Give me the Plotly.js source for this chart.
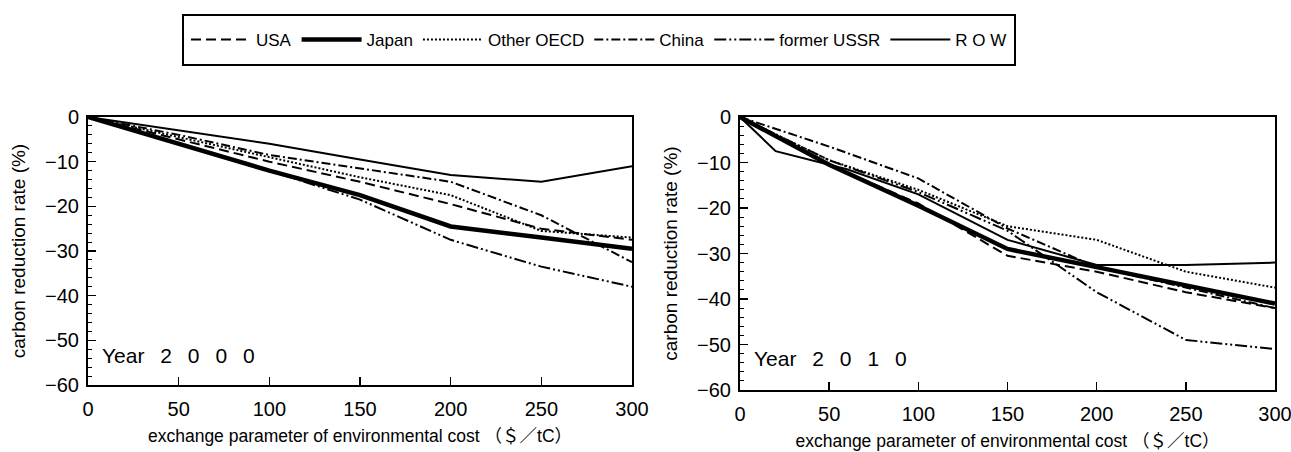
<!DOCTYPE html>
<html>
<head>
<meta charset="utf-8">
<script src="https://cdn.plot.ly/plotly-3.0.1.min.js"></script>
<style>html,body{margin:0;padding:0;background:#fff;}</style>
</head>
<body>
<div id="chart" style="width:1291px;height:452px;"></div>
<script>
// ---- data ----
const seriesNames = ["USA", "Japan", "Other OECD", "China", "former USSR", "R O W"];
const cost = [0, 50, 100, 150, 200, 250, 300];

// Year 2000
const usa2000   = [0, -5.0, -10.0, -14.5, -19.5, -25.0, -27.5];
const japan2000 = [0, -6.0, -12.0, -17.5, -24.5, -27.0, -29.5];
const oecd2000  = [0, -4.5, -9.0, -13.5, -17.5, -25.5, -27.0];
const china2000 = [0, -4.0, -8.5, -11.5, -14.5, -22.0, -32.5];
const ussr2000  = [0, -6.0, -12.0, -18.5, -27.5, -33.5, -38.0];
const row2000   = [0, -3.0, -6.0, -9.5, -13.0, -14.5, -11.0];

// Year 2010
const usa2010   = [0, -10.5, -19.0, -30.5, -34.0, -38.5, -42.0];
const japan2010 = [0, -10.5, -19.5, -29.0, -33.0, -37.0, -41.0];
const oecd2010  = [0, -9.5, -16.0, -24.0, -27.0, -34.0, -37.5];
const china2010 = [0, -6.5, -13.5, -24.5, -33.0, -37.5, -42.0];
const ussr2010  = [0, -9.5, -16.5, -25.0, -38.5, -49.0, -51.0];
const rowCost2010 = [0, 20, 60, 100, 150, 200, 250, 300];
const row2010   = [0, -7.5, -11.5, -17.0, -27.0, -32.5, -32.5, -32.0];

const xTickVals = [0, 50, 100, 150, 200, 250, 300];
const yTickVals = [0, -10, -20, -30, -40, -50, -60];

// ---- styles ----
const styles = [
  {width: 2, dash: "10px,5px"},
  {width: 4.5, dash: "solid"},
  {width: 2, dash: "2px,2px"},
  {width: 2, dash: "9px,3px,2px,3px"},
  {width: 2, dash: "12px,3px,2px,3px,2px,3px"},
  {width: 2, dash: "solid"}
];

const FONT = "Liberation Sans, Arial, Noto Sans CJK JP, sans-serif";
const NB = "\u00a0";
const SP = NB + NB + "\u2009";

function mk(x, y, i, xa, ya, show) {
  return {
    x: x, y: y, type: "scatter", mode: "lines",
    name: seriesNames[i], legendgroup: seriesNames[i], showlegend: show,
    xaxis: xa, yaxis: ya,
    line: {color: "#000", width: styles[i].width, dash: styles[i].dash},
    hoverinfo: "skip"
  };
}

const d2000 = [usa2000, japan2000, oecd2000, china2000, ussr2000, row2000];
const d2010 = [usa2010, japan2010, oecd2010, china2010, ussr2010, row2010];
const traces = [];
d2000.forEach((y, i) => traces.push(mk(cost, y, i, "x", "y", true)));
d2010.forEach((y, i) => traces.push(mk(i === 5 ? rowCost2010 : cost, y, i, "x2", "y2", false)));

function xax(domain, anchor) {
  return {
    domain: domain, anchor: anchor, range: [0, 300],
    tickvals: xTickVals, ticks: "inside", ticklen: 8, tickwidth: 1.5, tickcolor: "#000",
    showline: true, linewidth: 2, linecolor: "#000", mirror: true,
    showgrid: false, zeroline: false, ticklabelstandoff: 5, ticklabeloverflow: "allow",
    tickfont: {family: FONT, size: 20, color: "#000"},
    title: {text: "exchange parameter of environmental cost （＄／tC）", font: {family: FONT, size: 17.5, color: "#000"}, standoff: 11}
  };
}
function yax(domain, anchor) {
  return {
    domain: domain, anchor: anchor, range: [-60, 0],
    tickvals: yTickVals, ticks: "inside", ticklen: 8, tickwidth: 1.5, tickcolor: "#000",
    minor: {dtick: 2, ticks: "inside", ticklen: 4, tickwidth: 1, tickcolor: "#000"},
    showline: true, linewidth: 2, linecolor: "#000", mirror: true,
    showgrid: false, zeroline: false, ticklabelstandoff: 3,
    tickfont: {family: FONT, size: 20, color: "#000"},
    title: {text: "carbon reduction rate" + NB + "(%)", font: {family: FONT, size: 19, color: "#000"}, standoff: 14}
  };
}

const layout = {
  width: 1291, height: 452, autosize: false,
  margin: {l: 0, r: 0, t: 0, b: 0},
  paper_bgcolor: "#fff", plot_bgcolor: "#fff",
  font: {family: FONT, color: "#000"},
  xaxis: xax([88/1291, 632/1291], "y"),
  yaxis: yax([67/452, 335/452], "x"),
  xaxis2: xax([740/1291, 1275/1291], "y2"),
  yaxis2: yax([62/452, 335/452], "x2"),
  showlegend: true,
  legend: {
    orientation: "h", x: 599/1291, xanchor: "center", y: 412/452, yanchor: "middle",
    font: {family: FONT, size: 17, color: "#000"},
    bgcolor: "rgba(0,0,0,0)", borderwidth: 0,
    itemwidth: 60
  },
  shapes: [{
    type: "rect", xref: "paper", yref: "paper",
    x0: 183/1291, x1: 1015/1291, y0: 387/452, y1: 437/452,
    line: {color: "#000", width: 2}
  }],
  annotations: [
    {text: "Year" + SP + "2" + SP + "0" + SP + "0" + SP + "0", xref: "paper", yref: "paper", x: 100/1291, y: 97/452, xanchor: "left", yanchor: "middle", showarrow: false, font: {family: FONT, size: 21, color: "#000"}},
    {text: "Year" + SP + "2" + SP + "0" + SP + "1" + SP + "0", xref: "paper", yref: "paper", x: 752/1291, y: 94/452, xanchor: "left", yanchor: "middle", showarrow: false, font: {family: FONT, size: 21, color: "#000"}}
  ]
};

Plotly.newPlot("chart", traces, layout, {staticPlot: true, displayModeBar: false});
</script>
</body>
</html>
